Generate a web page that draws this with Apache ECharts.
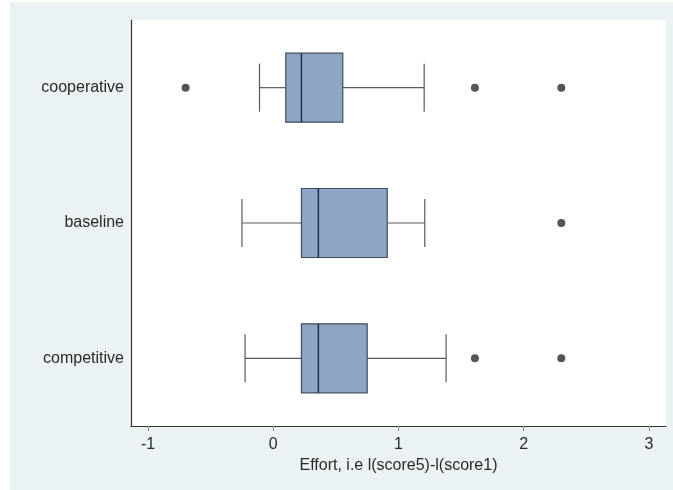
<!DOCTYPE html>
<html>
<head>
<meta charset="utf-8">
<script src="https://cdn.jsdelivr.net/npm/echarts@6/dist/echarts.min.js"></script>
<style>
html,body{margin:0;padding:0;background:#ffffff;}
#chart{width:673px;height:490px;}
</style>
</head>
<body>
<div id="chart"></div>
<script>
// Categories (top to bottom)
const categories = ['cooperative', 'baseline', 'competitive'];
// Box statistics: [lower whisker, Q1, median, Q3, upper whisker]
const boxStats = [
  [-0.11, 0.10, 0.225, 0.555, 1.205],
  [-0.25, 0.225, 0.36, 0.91, 1.21],
  [-0.225, 0.225, 0.36, 0.75, 1.38]
];
// Outliers: [value, category index]
const outliers = [
  [-0.70, 0], [1.61, 0], [2.30, 0],
  [2.30, 1],
  [1.61, 2], [2.30, 2]
];
const xTicks = [-1, 0, 1, 2, 3];
const xTitle = 'Effort, i.e l(score5)-l(score1)';

const chart = echarts.init(document.getElementById('chart'), null, {renderer: 'canvas'});
const FONT = 'Liberation Sans, Arial, sans-serif';

function renderBox(params, api) {
  const cat = api.value(0);
  const lo = api.coord([api.value(1), cat]);
  const q1 = api.coord([api.value(2), cat]);
  const md = api.coord([api.value(3), cat]);
  const q3 = api.coord([api.value(4), cat]);
  const hi = api.coord([api.value(5), cat]);
  const band = api.size([0, 1])[1];
  const bh = band * 0.51;
  const ch = band * 0.355;
  const y = lo[1];
  const wStyle = {stroke: '#555a60', lineWidth: 1.2};
  return {
    type: 'group',
    children: [
      {type: 'line', shape: {x1: lo[0], y1: y, x2: q1[0], y2: y}, style: wStyle},
      {type: 'line', shape: {x1: q3[0], y1: y, x2: hi[0], y2: y}, style: wStyle},
      {type: 'line', shape: {x1: lo[0], y1: y - ch / 2, x2: lo[0], y2: y + ch / 2}, style: wStyle},
      {type: 'line', shape: {x1: hi[0], y1: y - ch / 2, x2: hi[0], y2: y + ch / 2}, style: wStyle},
      {type: 'rect', shape: {x: q1[0], y: y - bh / 2, width: q3[0] - q1[0], height: bh},
        style: {fill: '#8ca6c4', stroke: '#3e4c5e', lineWidth: 1.2}},
      {type: 'line', shape: {x1: md[0], y1: y - bh / 2, x2: md[0], y2: y + bh / 2},
        style: {stroke: '#1c3150', lineWidth: 1.5}}
    ]
  };
}

const option = {
  animation: false,
  backgroundColor: 'transparent',
  graphic: [{
    type: 'rect', z: -10, silent: true,
    shape: {x: 10, y: 2, width: 663, height: 488},
    style: {fill: '#eaf2f3'}
  }],
  grid: {
    left: 131, right: 7, top: 20, bottom: 64,
    show: true, backgroundColor: '#ffffff', borderWidth: 0
  },
  xAxis: {
    type: 'value',
    min: -1.136, max: 3.136,
    splitLine: {show: false},
    axisLine: {show: true, onZero: false, lineStyle: {color: '#333333', width: 1.2}},
    axisTick: {show: true, length: 5, customValues: xTicks, lineStyle: {color: '#888888'}},
    axisLabel: {customValues: xTicks, color: '#2a2a2a', fontSize: 16, fontFamily: FONT, margin: 11},
    name: xTitle,
    nameLocation: 'middle',
    nameGap: 29,
    nameTextStyle: {color: '#2a2a2a', fontSize: 16, fontFamily: FONT}
  },
  yAxis: {
    type: 'category',
    data: categories,
    inverse: true,
    axisLine: {show: true, onZero: false, lineStyle: {color: '#333333', width: 1.2}},
    axisTick: {show: false},
    splitLine: {show: false},
    axisLabel: {color: '#2a2a2a', fontSize: 16, fontFamily: FONT, margin: 7}
  },
  series: [
    {
      type: 'custom',
      renderItem: renderBox,
      encode: {x: [1, 2, 3, 4, 5], y: 0},
      data: boxStats.map((s, i) => [i].concat(s)),
      z: 2
    },
    {
      type: 'scatter',
      symbol: 'circle',
      symbolSize: 8,
      itemStyle: {color: '#2a2a2a'},
      data: outliers,
      z: 3
    }
  ]
};
chart.setOption(option);
</script>
</body>
</html>
